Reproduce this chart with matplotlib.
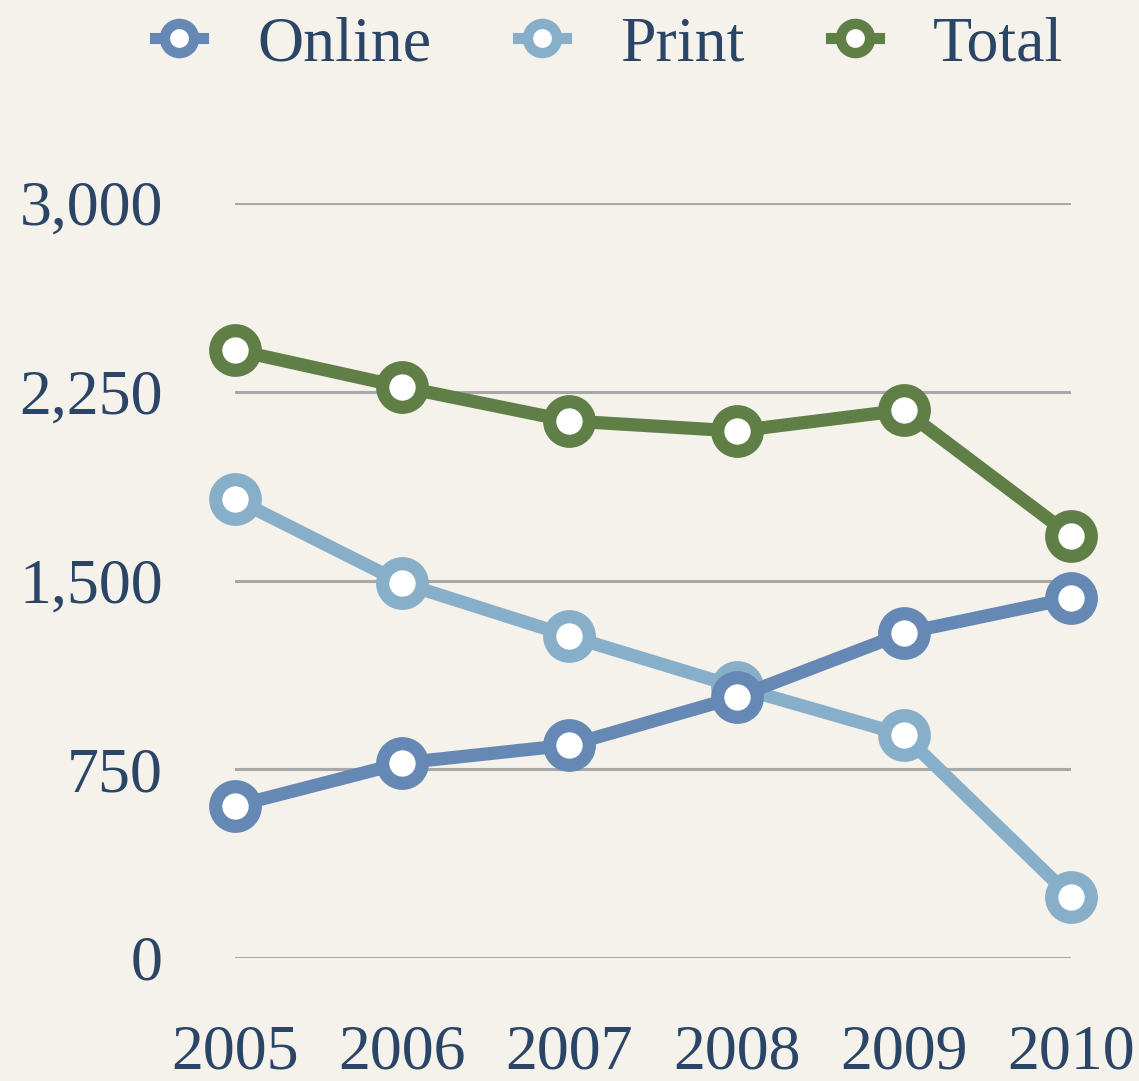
from matplotlib import pyplot as plt
from matplotlib.ticker import FuncFormatter

years = [2005, 2006, 2007, 2008, 2009, 2010]
online = [604, 775, 846, 1037, 1291, 1430]
printed = [1824, 1490, 1279, 1077, 886, 242]
total = [2416, 2269, 2134, 2094, 2177, 1677]
y_ticks = [0, 750, 1500, 2250, 3000]

bg = '#f5f2eb'
text_color = '#2b4566'

plt.rcParams['font.family'] = ['Liberation Serif', 'DejaVu Serif']

fig = plt.figure(figsize=(11.39, 10.81), dpi=100, facecolor=bg)
ax = fig.add_axes([235 / 1139, 1 - 958 / 1081, (1071 - 235) / 1139, (958 - 203) / 1081])
ax.set_facecolor(bg)

style = dict(linewidth=9.5, marker='o', markersize=28.5, markeredgewidth=9.5,
             markerfacecolor='white', clip_on=False)
l2, = ax.plot(years, printed, color='#88afca', label='Print', zorder=3, **style)
l1, = ax.plot(years, online, color='#6688b4', label='Online', zorder=4, **style)
l3, = ax.plot(years, total, color='#5f7f46', label='Total', zorder=5, **style)

ax.set_xlim(2005, 2010)
ax.set_ylim(0, 3000)
ax.set_yticks(y_ticks)
ax.set_xticks(years)
ax.yaxis.set_major_formatter(FuncFormatter(lambda v, p: f'{int(v):,}'))
ax.grid(axis='y', color='#a8a8a8', linewidth=2.2)
ax.grid(axis='x', visible=False)
ax.set_axisbelow(True)
for s in ax.spines.values():
    s.set_visible(False)
ax.tick_params(axis='both', length=0, labelsize=46, labelcolor=text_color)
ax.tick_params(axis='y', pad=52)
ax.tick_params(axis='x', pad=48)

leg = fig.legend(handles=[l1, l2, l3], loc='center', bbox_to_anchor=(0.535, 1 - 45 / 1081),
                 ncol=3, frameon=False, fontsize=46, handlelength=0.75,
                 handletextpad=0.85, columnspacing=1.35, labelcolor=text_color)
for h in leg.legend_handles:
    h.set_markersize(21)
    h.set_markeredgewidth(7.5)
    h.set_linewidth(8)

plt.savefig('out.png', dpi=100, facecolor=bg)
